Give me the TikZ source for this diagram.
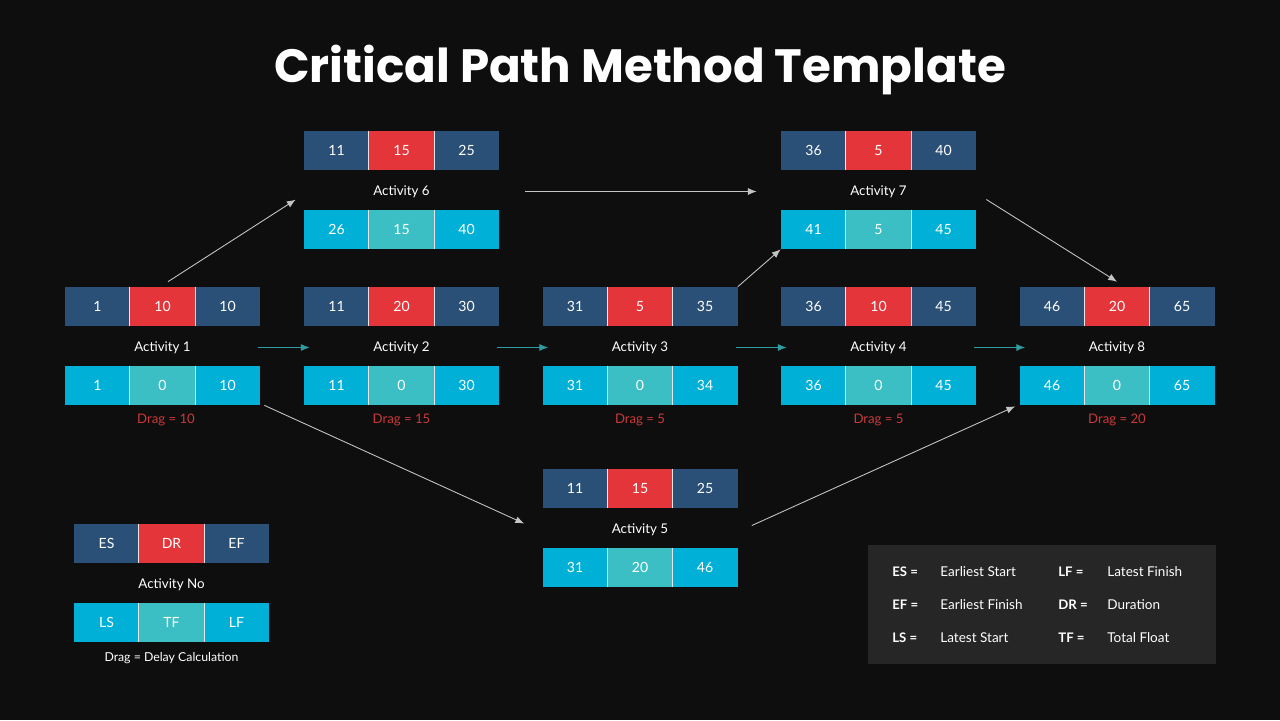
\documentclass[tikz,border=0pt]{standalone}
\usepackage{fontspec}
\setmainfont{Lato}
\newfontfamily\titlefont{Poppins}
\usetikzlibrary{arrows.meta}

\definecolor{bgdark}{HTML}{0E0E0E}
\definecolor{esblue}{HTML}{2B5078}
\definecolor{durred}{HTML}{E4363A}
\definecolor{lscyan}{HTML}{00B0D6}
\definecolor{tfteal}{HTML}{3BBFC4}
\definecolor{dragred}{HTML}{C9393B}
\definecolor{flowteal}{HTML}{2F9CA2}
\definecolor{linkgray}{HTML}{C4C4C4}
\definecolor{keybg}{HTML}{262626}

% top row + activity label
\newcommand{\cpmtop}[7]{%
  \node[cell,fill=esblue]  (#1es)  at (#2-65,#3-39.5) {#4};
  \node[cell,fill=durred]  (#1dr)  at (#2,#3-39.5)    {#5};
  \node[cell,fill=esblue]  (#1ef)  at (#2+65,#3-39.5) {#6};
  \node[actlabel]          (#1lab) at (#2,#3+1.5)     {#7};
  \draw[sep] (#1dr.north west) -- (#1dr.south west);
  \draw[sep] (#1dr.north east) -- (#1dr.south east);
}
% bottom row
\newcommand{\cpmbot}[6]{%
  \node[cell,fill=lscyan]  (#1ls)  at (#2-65,#3+39.5) {#4};
  \node[cell,fill=tfteal]  (#1tf)  at (#2,#3+39.5)    {#5};
  \node[cell,fill=lscyan]  (#1lf)  at (#2+65,#3+39.5) {#6};
  \draw[sep] (#1tf.north west) -- (#1tf.south west);
  \draw[sep] (#1tf.north east) -- (#1tf.south east);
}

\begin{document}
\begin{tikzpicture}[
    x=0.02cm, y=-0.02cm,
    cell/.style={minimum width=1.3cm,minimum height=0.78cm,inner sep=0pt,
      text=white,font=\fontsize{8}{10}\selectfont},
    actlabel/.style={minimum width=3.9cm,inner sep=0pt,text=white,
      font=\fontsize{7.6}{10}\selectfont},
    drag/.style={text=dragred,font=\fontsize{7.5}{10}\selectfont},
    sep/.style={draw=white!80!gray,line width=0.5pt},
    flow/.style={draw=flowteal,line width=0.6pt,-{Latex[length=5pt,width=4pt]}},
    link/.style={draw=linkgray,line width=0.5pt,-{Latex[length=5pt,width=4pt]}},
    keyterm/.style={anchor=west,inner sep=0pt,text=white,font=\fontsize{7.5}{10}\selectfont\bfseries},
    keytext/.style={anchor=west,inner sep=0pt,text=white,font=\fontsize{7.7}{10}\selectfont}
]
\fill[bgdark] (0,0) rectangle (1280,720);

\node[text=white,font=\titlefont\fontsize{26.6}{32}\selectfont\bfseries] (title) at (640,70) {Critical Path Method Template};

% activities
\cpmtop{a1}{162.5}{346}{1}{10}{10}{Activity 1}
\cpmbot{a1}{162.5}{346}{1}{0}{10}
\cpmtop{a2}{401.5}{346}{11}{20}{30}{Activity 2}
\cpmbot{a2}{401.5}{346}{11}{0}{30}
\cpmtop{a3}{640}{346}{31}{5}{35}{Activity 3}
\cpmbot{a3}{640}{346}{31}{0}{34}
\cpmtop{a4}{878.5}{346}{36}{10}{45}{Activity 4}
\cpmbot{a4}{878.5}{346}{36}{0}{45}
\cpmtop{a8}{1117}{346}{46}{20}{65}{Activity 8}
\cpmbot{a8}{1117}{346}{46}{0}{65}
\cpmtop{a6}{401.5}{190}{11}{15}{25}{Activity 6}
\cpmbot{a6}{401.5}{190}{26}{15}{40}
\cpmtop{a7}{878.5}{190}{36}{5}{40}{Activity 7}
\cpmbot{a7}{878.5}{190}{41}{5}{45}
\cpmtop{a5}{640}{528}{11}{15}{25}{Activity 5}
\cpmbot{a5}{640}{528}{31}{20}{46}

\node[drag] (d1) at (166,419.5) {Drag = 10};
\node[drag] (d2) at (401.5,419.5) {Drag = 15};
\node[drag] (d3) at (640,419.5)   {Drag = 5};
\node[drag] (d4) at (878.5,419.5) {Drag = 5};
\node[drag] (d8) at (1117,419.5)  {Drag = 20};

% critical path
\draw[flow] ([xshift=-0.04cm]a1lab.east) -- ([xshift=0.12cm]a2lab.west);
\draw[flow] ([xshift=-0.04cm]a2lab.east) -- ([xshift=0.12cm]a3lab.west);
\draw[flow] ([xshift=-0.04cm]a3lab.east) -- ([xshift=0.12cm]a4lab.west);
\draw[flow] ([xshift=-0.04cm]a4lab.east) -- ([xshift=0.12cm]a8lab.west);

% other links
\draw[link] ([shift={(5.5,-5)}]a1dr.north) -- ([shift={(-8,-10)}]a6ls.north west);
\draw[link] ([xshift=0.52cm]a6lab.east) -- ([xshift=-0.48cm]a7lab.west);
\draw[link] (a3ef.north east) -- (a7ls.south west);
\draw[link] ([shift={(10,8)}]a7lab.east) -- ([yshift=0.1cm]a8dr.north);
\draw[link] ([xshift=0.08cm]a1lf.south east) -- ([shift={(-18,-6)}]a5lab.west);
\draw[link] ([shift={(14,-4)}]a5lab.east) -- ([shift={(-4,1)}]a8ls.south west);

% legend
\cpmtop{lg}{171.5}{583}{ES}{DR}{EF}{Activity No}
\cpmbot{lg}{171.5}{583}{LS}{TF}{LF}
\node[text=white,font=\fontsize{7}{9}\selectfont] (lgdrag) at (171.5,658) {Drag = Delay Calculation};

% key
\fill[keybg] (868,545) rectangle (1216,664);
\node[keyterm] (kes) at (892,572) {ES =};
\node[keytext] (tes) at (940,572) {Earliest Start};
\node[keyterm] (kef) at (892,605) {EF =};
\node[keytext] (tef) at (940,605) {Earliest Finish};
\node[keyterm] (kls) at (892,638) {LS =};
\node[keytext] (tls) at (940,638) {Latest Start};
\node[keyterm] (klf) at (1058,572) {LF =};
\node[keytext] (tlf) at (1107,572) {Latest Finish};
\node[keyterm] (kdr) at (1058,605) {DR =};
\node[keytext] (tdr) at (1107,605) {Duration};
\node[keyterm] (ktf) at (1058,638) {TF =};
\node[keytext] (ttf) at (1107,638) {Total Float};
\end{tikzpicture}
\end{document}
